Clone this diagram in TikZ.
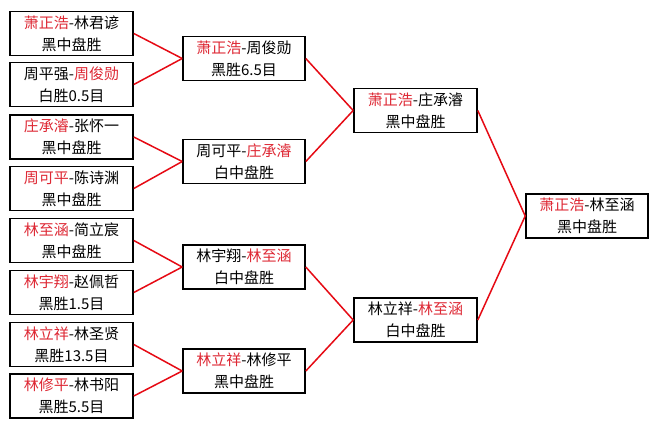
\documentclass[tikz,border=0pt]{standalone}
\usepackage{fontspec}
\setmainfont{Noto Sans CJK SC}
\definecolor{hred}{RGB}{222,40,52}
\definecolor{lred}{RGB}{230,10,20}
\newcommand{\rd}[1]{\textcolor{hred}{#1}}
\begin{document}
\begin{tikzpicture}[x=1pt,y=-1pt,
  game/.style={draw=black,line width=1.6pt,fill=white,minimum width=123pt,minimum height=44pt,
    inner sep=0pt,align=center,font=\fontsize{15}{22}\selectfont},
  link/.style={draw=lred,line width=1.5pt}]
\useasboundingbox[fill=white] (0,0) rectangle (659,429);
% round 1
\node[game] (a1) at (71.5,33.5) {\rd{萧正浩}-林君谚\\黑中盘胜};
\node[game] (a2) at (71.5,84.5) {周平强-\rd{周俊勋}\\白胜0.5目};
\node[game] (a3) at (71.5,137) {\rd{庄承濬}-张怀一\\黑中盘胜};
\node[game] (a4) at (71.5,188.5) {\rd{周可平}-陈诗渊\\黑中盘胜};
\node[game] (a5) at (71.5,240.5) {\rd{林至涵}-简立宸\\黑中盘胜};
\node[game] (a6) at (71.5,292.5) {\rd{林宇翔}-赵佩哲\\黑胜1.5目};
\node[game] (a7) at (71.5,344.5) {\rd{林立祥}-林圣贤\\黑胜13.5目};
\node[game] (a8) at (71.5,396) {\rd{林修平}-林书阳\\黑胜5.5目};
% round 2
\node[game,minimum width=122pt] (b1) at (244,58.5) {\rd{萧正浩}-周俊勋\\黑胜6.5目};
\node[game,minimum width=122pt] (b2) at (244,161.5) {周可平-\rd{庄承濬}\\白中盘胜};
\node[game,minimum width=122pt] (b3) at (244,267) {林宇翔-\rd{林至涵}\\白中盘胜};
\node[game,minimum width=122pt] (b4) at (244,371) {\rd{林立祥}-林修平\\黑中盘胜};
% round 3
\node[game] (c1) at (415.5,110.5) {\rd{萧正浩}-庄承濬\\黑中盘胜};
\node[game] (c2) at (415.5,320) {林立祥-\rd{林至涵}\\白中盘胜};
% final
\node[game,minimum width=122pt] (d1) at (587,216) {\rd{萧正浩}-林至涵\\黑中盘胜};
% connectors
\draw[link] (a1.east) -- (b1.west);
\draw[link] (a2.east) -- (b1.west);
\draw[link] (a3.east) -- (b2.west);
\draw[link] (a4.east) -- (b2.west);
\draw[link] (a5.east) -- (b3.west);
\draw[link] (a6.east) -- (b3.west);
\draw[link] (a7.east) -- (b4.west);
\draw[link] (a8.east) -- (b4.west);
\draw[link] (b1.east) -- (c1.west);
\draw[link] (b2.east) -- (c1.west);
\draw[link] (b3.east) -- (c2.west);
\draw[link] (b4.east) -- (c2.west);
\draw[link] (c1.east) -- (d1.west);
\draw[link] (c2.east) -- (d1.west);
\end{tikzpicture}
\end{document}
